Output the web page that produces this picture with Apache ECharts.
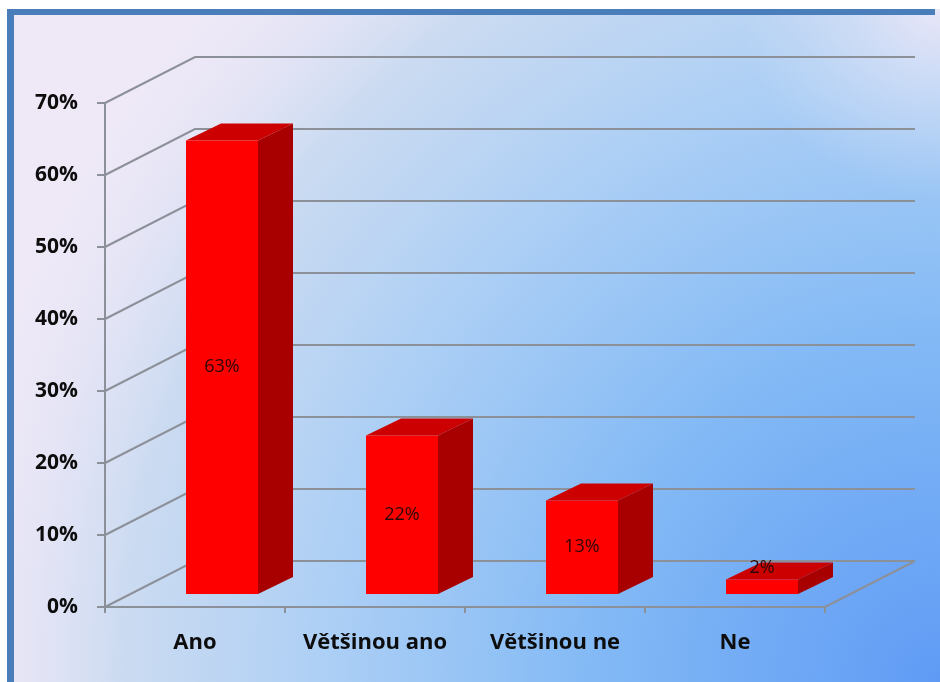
<!DOCTYPE html>
<html>
<head>
<meta charset="utf-8">
<script src="https://cdn.jsdelivr.net/npm/echarts@6/dist/echarts.min.js"></script>
<style>
html,body{margin:0;padding:0;background:#fff;}
#chart{width:940px;height:682px;}
</style>
</head>
<body>
<div id="chart"></div>
<script>
const categories = ['Ano', 'Většinou ano', 'Většinou ne', 'Ne'];
const values = [63, 22, 13, 2];
const yTicks = [0, 10, 20, 30, 40, 50, 60, 70];

const DEPTH = [90, -46];      // wall depth offset
const BAR_F = [27, -13];      // bar front face offset
const BAR_D = [35, -17];      // bar depth
const GRID_COLOR = '#8c9099';

const chart = echarts.init(document.getElementById('chart'), null, {renderer: 'canvas'});

function frameItem(params, api) {
  const t = api.value(1);
  const band = api.size([1, 0])[0];
  const p0 = api.coord([0, t]);
  const p1 = api.coord([categories.length - 1, t]);
  const xl = p0[0] - band / 2;
  const xr = p1[0] + band / 2;
  const y = p0[1];
  const children = [{
    type: 'polyline',
    shape: {points: [[xl, y], [xl + DEPTH[0], y + DEPTH[1]], [xr + DEPTH[0], y + DEPTH[1]]]},
    style: {stroke: GRID_COLOR, lineWidth: 2, fill: null}
  }];
  if (t === 0) {
    children.push({
      type: 'line',
      shape: {x1: xr, y1: y, x2: xr + DEPTH[0], y2: y + DEPTH[1]},
      style: {stroke: GRID_COLOR, lineWidth: 2}
    });
  }
  return {type: 'group', children: children};
}

function barItem(params, api) {
  const cat = api.value(0);
  const v = api.value(1);
  const base = api.coord([cat, 0]);
  const top = api.coord([cat, v]);
  const band = api.size([1, 0])[0];
  const w = band * 0.4;
  const x0 = base[0] - w / 2 + BAR_F[0];
  const x1 = x0 + w;
  const yb = base[1] + BAR_F[1];
  const yt = top[1] + BAR_F[1];
  const dx = BAR_D[0], dy = BAR_D[1];
  const h = yb - yt;
  let lx = (x0 + x1) / 2, ly;
  if (h > 24) ly = (yt + yb) / 2; else ly = yt + dy / 2 - 3;
  return {
    type: 'group',
    children: [
      {type: 'polygon', shape: {points: [[x1, yt], [x1 + dx, yt + dy], [x1 + dx, yb + dy], [x1, yb]]},
        style: {fill: '#a80000'}},
      {type: 'polygon', shape: {points: [[x0, yt], [x1, yt], [x1 + dx, yt + dy], [x0 + dx, yt + dy]]},
        style: {fill: '#cc0000'}},
      {type: 'rect', shape: {x: x0, y: yt, width: w, height: h},
        style: {fill: '#ff0000'}},
      {type: 'text', x: lx, y: ly,
        style: {text: v + '%', fill: '#2a0808', font: '18px "Open Sans", sans-serif',
          align: 'center', verticalAlign: 'middle'}}
    ]
  };
}

const option = {
  animation: false,
  graphic: [
    {type: 'rect', z: -100, silent: true, shape: {x: 0, y: 0, width: 940, height: 682},
      style: {fill: '#efe9f7'}},
    {type: 'rect', z: -99, silent: true, shape: {x: 0, y: 0, width: 940, height: 682},
      style: {fill: {type: 'radial', x: 940, y: 682, r: 1020, global: true, colorStops: [
        {offset: 0, color: 'rgba(95,155,245,1)'},
        {offset: 0.35, color: 'rgba(132,186,245,1)'},
        {offset: 0.6, color: 'rgba(170,206,245,0.97)'},
        {offset: 0.8, color: 'rgba(196,216,240,0.85)'},
        {offset: 1, color: 'rgba(235,230,247,0)'}
      ]}}},
    {type: 'rect', z: -98, silent: true, shape: {x: 0, y: 0, width: 940, height: 682},
      style: {fill: {type: 'radial', x: 940, y: 0, r: 200, global: true, colorStops: [
        {offset: 0, color: 'rgba(238,232,248,0.95)'},
        {offset: 0.4, color: 'rgba(230,230,247,0.55)'},
        {offset: 1, color: 'rgba(220,226,245,0)'}
      ]}}},
    {type: 'rect', z: -97, silent: true, shape: {x: 0, y: 0, width: 940, height: 9}, style: {fill: '#ffffff'}},
    {type: 'rect', z: -97, silent: true, shape: {x: 0, y: 0, width: 7, height: 682}, style: {fill: '#ffffff'}},
    {type: 'rect', z: -96, silent: true, shape: {x: 7, y: 9, width: 928, height: 6}, style: {fill: '#4a7ebb'}},
    {type: 'rect', z: -96, silent: true, shape: {x: 7, y: 9, width: 7, height: 673}, style: {fill: '#4a7ebb'}}
  ],
  grid: {left: 105, right: 115, top: 103, bottom: 75, containLabel: false},
  xAxis: {
    type: 'category',
    data: categories,
    boundaryGap: true,
    axisLine: {show: true, lineStyle: {color: GRID_COLOR, width: 2}},
    axisTick: {show: true, interval: 0, length: 6, lineStyle: {color: GRID_COLOR, width: 2}},
    axisLabel: {interval: 0, margin: 25, color: '#0d0d0d',
      fontFamily: 'Open Sans', fontWeight: 'bold', fontSize: 22},
    splitLine: {show: false}
  },
  yAxis: {
    type: 'value',
    min: 0, max: 70, interval: 10,
    axisLine: {show: true, lineStyle: {color: GRID_COLOR, width: 2}},
    axisTick: {show: true, length: 8, lineStyle: {color: GRID_COLOR, width: 2}},
    axisLabel: {formatter: '{value}%', margin: 27, color: '#0d0d0d',
      fontFamily: 'Open Sans', fontWeight: 'bold', fontSize: 21},
    splitLine: {show: false}
  },
  series: [
    {
      type: 'custom', name: 'frame', z: 1, silent: true,
      renderItem: frameItem,
      encode: {x: 0, y: 1},
      data: yTicks.map(t => [0, t])
    },
    {
      type: 'custom', name: 'bars', z: 3, silent: true,
      renderItem: barItem,
      encode: {x: 0, y: 1},
      data: values.map((v, i) => [i, v])
    }
  ]
};
chart.setOption(option);
</script>
</body>
</html>
